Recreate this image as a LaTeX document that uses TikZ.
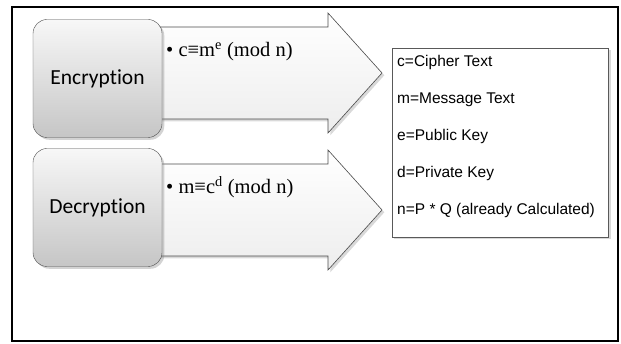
\documentclass[tikz,border=0pt]{standalone}
\usepackage{fontspec}
\setmainfont{Liberation Serif}
\newfontfamily\boxfont[RawFeature={-liga;-dlig}]{Carlito}
\newfontfamily\keyfont{Liberation Sans}
\usetikzlibrary{shadows,positioning}

\tikzset{
  stagebox/.style={draw=gray!60!black, rounded corners=14pt, top color=gray!6, bottom color=gray!45,
    minimum width=129pt, minimum height=118pt, drop shadow={opacity=0.35},
    font=\boxfont\fontsize{21.5}{25}\selectfont},
  stagearrow/.style={draw=gray!60!black, line width=0.6pt, top color=white, bottom color=gray!14,
    drop shadow={opacity=0.3}},
  formula/.style={anchor=base west, inner sep=0pt, font=\fontsize{20.5}{24}\selectfont},
  keybox/.style={draw=gray!70!black, fill=white, anchor=north west, minimum width=216pt,
    minimum height=189pt, drop shadow={opacity=0.3}},
  keytext/.style={anchor=base west, inner sep=0pt, font=\keyfont\fontsize{15.5}{18}\selectfont},
}

\begin{document}
\begin{tikzpicture}[x=1pt,y=-1pt]
  \useasboundingbox (0,0) rectangle (621,344);
  \draw[line width=2.5pt] (12,7) rectangle (618,341);

  % stages: box centre / arrow centre / name / formula
  \foreach \b/\c/\name/\formula in {78.5/73/Encryption/{c≡m\textsuperscript{e} (mod n)},
                                    207.5/210/Decryption/{m≡c\textsuperscript{d} (mod n)}}{
    \draw[stagearrow] (150,\c-46) -- (328,\c-46) -- (328,\c-60) -- (382,\c)
      -- (328,\c+60) -- (328,\c+46) -- (150,\c+46) -- cycle;
    \node[stagebox] (\name) at (97.5,\b) {\name};
    \node[formula] (\name-f) at (166,\c-16) {\textbullet\ \formula};
  }

  % legend
  \node[keybox] (keys) at (392,48) {};
  \foreach \i/\txt in {1/c=Cipher Text, 2/m=Message Text, 3/e=Public Key,
                       4/d=Private Key, 5/n=P * Q (already Calculated)}{
    \node[keytext] (key\i) at (397,30+37*\i) {\txt};
  }
\end{tikzpicture}
\end{document}
